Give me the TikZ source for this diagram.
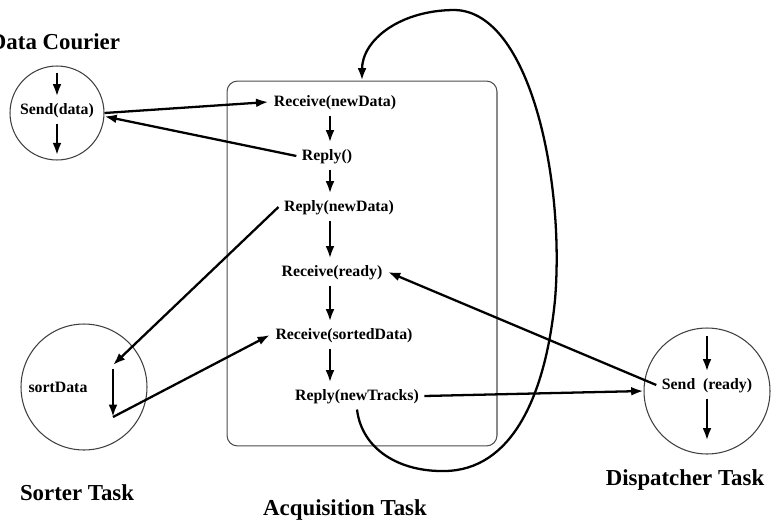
\documentclass[tikz,border=0pt]{standalone}
\usepackage{fontspec}
\setmainfont{Liberation Serif}
\usetikzlibrary{arrows.meta}
\tikzset{
	flow/.style={line width=1.3pt,-{Latex[length=7pt,width=5pt]}},
	taskcircle/.style={circle,draw=black!75,semithick,inner sep=0pt},
	taskbox/.style={draw=black!70,semithick,rounded corners=6pt,inner sep=0pt},
	stagelbl/.style={font=\bfseries\fontsize{9}{10}\selectfont,inner sep=3pt,text height=7pt,text depth=2pt},
	tasktitle/.style={font=\bfseries\fontsize{13}{15}\selectfont}
}
\newcommand{\stg}[4]{\node[stagelbl] (#1) at (#2,#3) {#4};}% #1: name, #2: x, #3: y, #4: text
\newcommand{\godown}[2]{\draw[flow] (#1.south -| col) -- (#2.north -| col);}

\begin{document}
\begin{tikzpicture}[x=0.02cm,y=-0.02cm]
	\useasboundingbox (0,0) rectangle (774,524);
	
	% Acquisition task box
	\node[taskbox,minimum width=5.4cm,minimum height=7.3cm] (acq) at (362,263.5) {};
	\node[tasktitle] (acqtitle) at (345,510) {Acquisition Task};
	\coordinate (col) at (330,0);
	
	% Stages of the acquisition task
	\stg{rnd}{335}{102}{Receive(newData)}
	\stg{rep}{327}{156}{Reply()}
	\stg{rpd}{339}{207}{Reply(newData)}
	\stg{rr}{332}{272}{Receive(ready)}
	\stg{rsd}{344}{335}{Receive(sortedData)}
	\stg{rnt}{357}{396}{Reply(newTracks)}
	\godown{rnd}{rep}
	\godown{rep}{rpd}
	\godown{rpd}{rr}
	\godown{rr}{rsd}
	\godown{rsd}{rnt}
	
	% Data courier
	\node[tasktitle] (courtitle) at (55,42) {Data Courier};
	\node[taskcircle,minimum size=1.88cm] (courier) at (57,113) {};
	\stg{send}{57}{110}{Send(data)}
	\draw[flow,shorten <=4pt] (courier.north) -- (send.north);
	\draw[flow,shorten >=3pt] (send.south) -- (courier.south);
	
	% Sorter task
	\node[tasktitle] (sorttitle) at (77,493) {Sorter Task};
	\node[taskcircle,minimum size=2.52cm] (sorter) at (84,387) {};
	\stg{sortd}{58}{388}{sortData}
	\coordinate (s1) at (113,365);
	\coordinate (s2) at (113,417);
	\draw[flow,shorten <=2pt] (s1) -- (s2);
	
	% Dispatcher task
	\node[tasktitle] (disptitle) at (685,480) {Dispatcher Task};
	\node[taskcircle,minimum size=2.52cm] (dispatcher) at (707,391) {};
	\stg{sendr}{707}{385}{Send\ \ (ready)}
	\draw[flow,shorten <=5pt] (dispatcher.north) -- (sendr.north);
	\draw[flow,shorten >=8pt] (sendr.south) -- (dispatcher.south);
	
	% Messages between tasks
	\draw[flow] (courier.east) -- (rnd.west);
	\draw[flow] (rep.west) -- (courier.-4);
	\draw[flow] (rpd.west) -- (s1);
	\draw[flow] (s2) -- (rsd.west);
	\draw[flow] (sendr.west) -- (rr.east);
	\draw[flow] (rnt.east) -- (dispatcher.west);
	
	% Loop back to the start
	\draw[flow] (rnt.south) .. controls (362,450) and (400,472) .. (445,471)
		.. controls (510,470) and (545,400) .. (555,300)
		.. controls (565,180) and (530,12) .. (455,10)
		.. controls (400,10) and (362,40) .. (acq.north);
\end{tikzpicture}
\end{document}
